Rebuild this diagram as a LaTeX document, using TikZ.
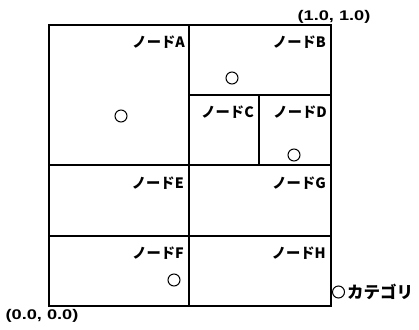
\documentclass[tikz,border=0pt]{standalone}
\usepackage{fontspec}
\setmainfont{Liberation Sans}
\newfontfamily\jp{Noto Sans CJK JP}
\begin{document}
\begin{tikzpicture}[x=1pt,y=-1pt,
  cell/.style={draw=black,line width=1.1pt},
  lbl/.style={anchor=east,inner sep=0pt,font=\jp\bfseries\fontsize{14.3}{15}\selectfont},
  dot/.style={circle,draw=black,line width=1pt,minimum size=12pt,inner sep=0pt},
  coord/.style={inner sep=0pt,font=\bfseries\fontsize{14}{15}\selectfont}]
\useasboundingbox (0,0) rectangle (419,329);
% cells
\draw[cell] (49,25) rectangle (189,165);
\draw[cell] (189,25) rectangle (331,95);
\draw[cell] (189,95) rectangle (259,165);
\draw[cell] (259,95) rectangle (331,165);
\draw[cell] (49,165) rectangle (189,236);
\draw[cell] (189,165) rectangle (331,236);
\draw[cell] (49,236) rectangle (189,306);
\draw[cell] (189,236) rectangle (331,306);
% labels
\node[lbl] (lA) at (185,42) {ノードA};
\node[lbl] (lB) at (326,42) {ノードB};
\node[lbl] (lC) at (254,112) {ノードC};
\node[lbl] (lD) at (327,112) {ノードD};
\node[lbl] (lE) at (184,183) {ノードE};
\node[lbl] (lG) at (326,183) {ノードG};
\node[lbl] (lF) at (184,253) {ノードF};
\node[lbl] (lH) at (326,253) {ノードH};
% circles
\node[dot] (cA) at (121,116) {};
\node[dot] (cB) at (232,78) {};
\node[dot] (cD) at (294,155) {};
\node[dot] (cF) at (174,280) {};
% legend
\node[dot] (cL) at (338.5,292) {};
\node[lbl,anchor=west,font=\jp\bfseries\fontsize{16.5}{17}\selectfont] (tL) at (347,292) {カテゴリ};
% coordinates
\node[coord] (c11) at (334,17) {\scalebox{1.3}[1]{(1.0, 1.0)}};
\node[coord] (c00) at (42,316) {\scalebox{1.3}[1]{(0.0, 0.0)}};
\end{tikzpicture}
\end{document}
